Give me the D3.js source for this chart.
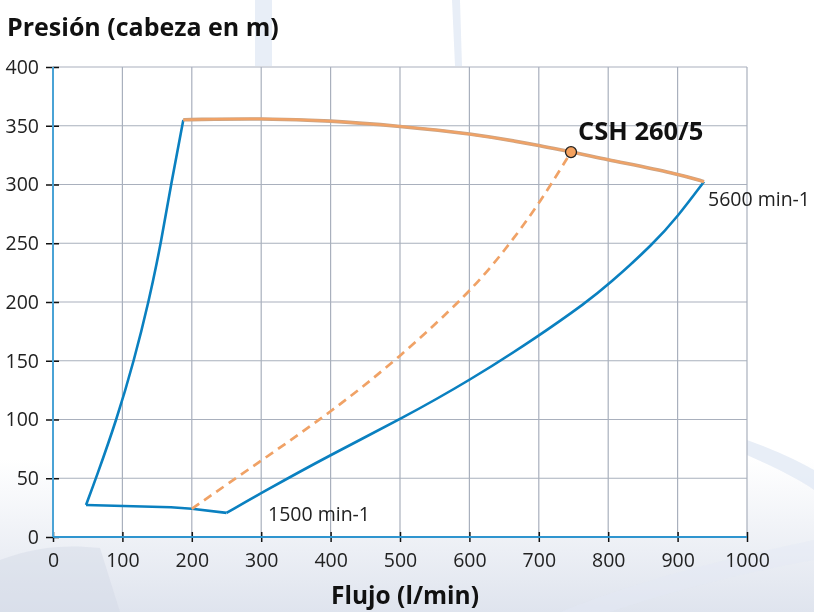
<!DOCTYPE html>
<html>
<head>
<meta charset="utf-8">
<script src="https://cdn.jsdelivr.net/npm/d3@7"></script>
<style>
html,body{margin:0;padding:0;background:#fff;}
svg{display:block;font-family:"Open Sans",sans-serif;}
</style>
</head>
<body>
<svg id="chart" width="814" height="612"></svg>
<script>
const xTicks = [0,100,200,300,400,500,600,700,800,900,1000];
const yTicks = [0,50,100,150,200,250,300,350,400];
const leftCurve = [[47.6,27.2],[62,50],[91.8,100],[116.7,150],[137.9,200],[155.6,250],[170,300],[187.8,355]];
const topCurve = [[187.8,355],[200,355.3],[300,356.2],[400,354.5],[500,349.6],[600,343.6],[700,333.6],[800,321],[900,309.3],[938,302.4]];
const rightCurve = [[250,20.5],[300,37.5],[400,70],[500,100],[600,133],[700,171],[769,200],[800,214.5],[866,250],[900,272.6],[938,302.4]];
const bottomLine = [[47.6,27.2],[170,25.3],[200,24],[250,20.5]];
const dashedCurve = [[200,24],[300,65],[400,106],[500,153],[600,208],[650,243],[700,283],[746.4,327.6]];
const opPoint = [746.4,327.6];
const labels = {model:"CSH 260/5", high:"5600 min-1", low:"1500 min-1"};

const svg = d3.select("#chart");
const W=814,H=612;

// background decoration
const defs = svg.append("defs");
const g1 = defs.append("linearGradient").attr("id","bgGrad").attr("x1","0").attr("y1","0").attr("x2","0").attr("y2","1");
g1.append("stop").attr("offset","0").attr("stop-color","#ffffff");
g1.append("stop").attr("offset","0.75").attr("stop-color","#ffffff");
g1.append("stop").attr("offset","1").attr("stop-color","#dfe4ee");
svg.append("rect").attr("width",W).attr("height",H).attr("fill","url(#bgGrad)");
const deco = svg.append("g").attr("fill","#e3eaf5").attr("opacity",0.8);
deco.append("path").attr("d","M255,0 L272,0 L272,66 L255,66 Z");
deco.append("path").attr("d","M452,0 L460,0 L462,66 L455,66 Z");
deco.append("path").attr("d","M747,455 C780,470 800,480 814,490 L814,470 C800,462 780,452 747,440 Z");
deco.append("path").attr("d","M560,612 C640,580 720,560 814,540 L814,560 C730,575 660,595 610,612 Z").attr("opacity",0.5);
deco.append("path").attr("d","M0,560 C40,545 70,545 100,548 L120,612 L0,612 Z").attr("fill","#d3d9e6").attr("opacity",0.6);

const x = d3.scaleLinear().domain([0,1000]).range([53,747]);
const y = d3.scaleLinear().domain([0,400]).range([537,67]);

// plot area
svg.append("rect").attr("x",x(0)).attr("y",y(400)).attr("width",x(1000)-x(0)).attr("height",y(0)-y(400)).attr("fill","#fff");

// grid
const grid = svg.append("g").attr("stroke","#a9b0bd").attr("stroke-width",1.2);
grid.selectAll(".vx").data(xTicks.filter(d=>d>0)).enter().append("line")
  .attr("x1",d=>x(d)).attr("x2",d=>x(d)).attr("y1",y(0)).attr("y2",y(400));
grid.selectAll(".hy").data(yTicks.filter(d=>d>0)).enter().append("line")
  .attr("x1",x(0)).attr("x2",x(1000)).attr("y1",d=>y(d)).attr("y2",d=>y(d));

// axes
const fmt = d3.format("d");
const xAxis = svg.append("g").attr("transform",`translate(0,${y(0)})`)
  .call(d3.axisBottom(x).tickValues(xTicks).tickFormat(fmt).tickSize(5).tickPadding(11).tickSizeOuter(0));
xAxis.select(".domain").remove();
xAxis.selectAll(".tick line").attr("y1",-5).attr("y2",5).attr("stroke","#111").attr("stroke-width",1.5);
xAxis.selectAll("text").attr("font-size",19.5).attr("fill","#222").attr("font-family","Open Sans");

const yAxis = svg.append("g").attr("transform",`translate(${x(0)},0)`)
  .call(d3.axisLeft(y).tickValues(yTicks).tickFormat(fmt).tickSize(7).tickPadding(7).tickSizeOuter(0));
yAxis.select(".domain").remove();
yAxis.selectAll(".tick line").attr("x1",-7).attr("x2",6).attr("stroke","#111").attr("stroke-width",1.5);
yAxis.selectAll("text").attr("font-size",19.5).attr("fill","#222").attr("font-family","Open Sans");

svg.append("line").attr("x1",x(0)).attr("x2",x(0)).attr("y1",y(0)).attr("y2",y(400)).attr("stroke","#4aa3d6").attr("stroke-width",2);
svg.append("line").attr("x1",x(0)).attr("x2",x(1000)).attr("y1",y(0)).attr("y2",y(0)).attr("stroke","#2f95cf").attr("stroke-width",2);

const blue="#0a80c0", orange="#f0a266";
const line = d3.line().x(d=>x(d[0])).y(d=>y(d[1]));
svg.append("path").datum(leftCurve).attr("d",line.curve(d3.curveBasis)).attr("fill","none").attr("stroke",blue).attr("stroke-width",2.6);
svg.append("path").datum(bottomLine).attr("d",line.curve(d3.curveLinear)).attr("fill","none").attr("stroke",blue).attr("stroke-width",2.6);
svg.append("path").datum(rightCurve).attr("d",line.curve(d3.curveBasis)).attr("fill","none").attr("stroke",blue).attr("stroke-width",2.6);
svg.append("path").datum(dashedCurve).attr("d",line.curve(d3.curveBasis)).attr("fill","none").attr("stroke",orange).attr("stroke-width",2.7).attr("stroke-dasharray","9,6");
svg.append("path").datum(topCurve).attr("d",line.curve(d3.curveBasis)).attr("fill","none").attr("stroke","#c9a486").attr("stroke-width",3.6);
svg.append("path").datum(topCurve).attr("d",line.curve(d3.curveBasis)).attr("fill","none").attr("stroke",orange).attr("stroke-width",2.2);

svg.append("circle").attr("cx",x(opPoint[0])).attr("cy",y(opPoint[1])).attr("r",5.5).attr("fill","#f4a15e").attr("stroke","#222").attr("stroke-width",1.3);

// texts
svg.append("text").attr("x",7).attr("y",36).attr("font-size",25).attr("font-weight","bold").attr("fill","#111").text("Presión (cabeza en m)");
svg.append("text").attr("x",405).attr("y",604).attr("text-anchor","middle").attr("font-size",24.5).attr("font-weight","bold").attr("fill","#111").text("Flujo (l/min)");
svg.append("text").attr("x",578).attr("y",140).attr("font-size",25.5).attr("font-weight","bold").attr("fill","#111").text(labels.model);
svg.append("text").attr("x",708).attr("y",206).attr("font-size",19.5).attr("fill","#222").text(labels.high);
svg.append("text").attr("x",268).attr("y",521).attr("font-size",19.5).attr("fill","#222").text(labels.low);
</script>
</body>
</html>
